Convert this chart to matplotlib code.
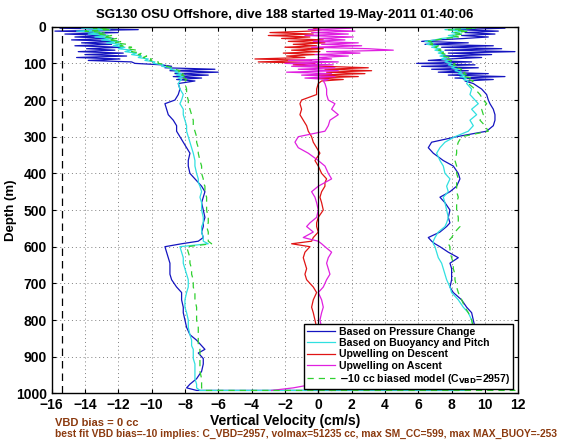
import numpy as np
import matplotlib
matplotlib.use("Agg")
import matplotlib.pyplot as plt

plt.rcParams['font.family'] = ['Liberation Sans', 'DejaVu Sans']
plt.rcParams['font.weight'] = 'bold'

# depth grids (m)
d_top = list(range(0, 150, 4))
d_deep = [155, 170, 185, 200, 210, 225, 240, 255, 270, 285, 300, 315, 330, 345, 365, 380,
          400, 415, 425, 435, 450, 465, 480, 500, 520, 535, 545, 560, 575, 585, 592, 600,
          615, 630, 645, 660, 675, 690, 710, 725, 745, 765, 780, 800, 820, 840, 855, 870,
          880, 890, 905, 920, 940, 960, 975, 985, 992]

# descent, near surface (cm/s)
press_dn_top = [-11.5, -15.5, -10.8, -15.8, -12.0, -15.2, -12.6, -14.6, -12.3, -14.8, -12.0, -14.2,
                -12.4, -14.6, -11.8, -13.9, -12.2, -14.4, -11.7, -14.0, -11.5, -14.5, -11.9, -13.8,
                -11.2, -11.0, -9.4, -8.8, -9.2, -6.2, -8.9, -6.0, -8.6, -6.6, -8.7, -7.0, -8.5, -7.4]
buoy_dn_top = [-10.5, -14.2, -12.5, -14.5, -13.0, -13.8, -12.6, -13.4, -12.4, -13.0, -12.0, -12.7,
               -11.8, -12.3, -11.6, -12.0, -11.2, -11.6, -10.9, -11.2, -10.6, -10.8, -10.2, -10.4,
               -9.8, -9.9, -9.3, -9.4, -8.8, -8.9, -8.4, -8.6, -8.2, -8.5, -8.1, -8.4, -8.2, -8.3]
model_dn_top = [-10.0, -13.5, -12.4, -14.0, -12.8, -13.3, -12.4, -12.9, -12.1, -12.6, -11.8, -12.2,
                -11.5, -11.9, -11.2, -11.5, -10.9, -11.2, -10.6, -10.8, -10.3, -10.5, -10.0, -10.1,
                -9.6, -9.6, -9.1, -9.1, -8.7, -8.6, -8.3, -8.4, -8.1, -8.2, -7.9, -8.1, -7.9, -8.0]
upw_dn_top = [0.0, -0.3, 0.2, -0.5, -2.9, -0.3, -3.0, -0.5, -2.2, 0.3, -1.8, 0.4,
              -1.5, -0.1, -2.0, 0.3, -1.6, 0.1, -2.1, -0.2, -1.9, -0.8, -3.8, -0.4,
              -3.6, -0.2, -1.5, 0.3, 3.0, 0.4, 3.2, 0.5, 2.8, -0.2, 2.4, -0.3, 1.5, 0.2]

# ascent, near surface (cm/s)
press_up_top = [9.0, 11.2, 8.2, 10.8, 8.8, 10.6, 8.6, 10.2, 8.8, 7.2, 6.2, 9.0,
                6.4, 10.5, 7.4, 11.0, 7.6, 11.8, 7.8, 10.4, 7.4, 9.8, 7.8, 6.6,
                9.2, 5.9, 9.4, 6.2, 9.6, 6.8, 9.0, 7.2, 10.2, 7.8, 11.2, 8.2, 10.5, 8.8]
buoy_up_top = [8.4, 9.4, 7.6, 8.9, 8.0, 8.6, 7.8, 8.3, 7.4, 7.0, 6.4, 6.9,
               6.5, 7.2, 6.8, 7.3, 7.0, 7.5, 7.2, 7.6, 7.3, 7.7, 7.4, 7.8,
               7.6, 8.0, 7.8, 8.2, 8.0, 8.4, 8.2, 8.6, 8.4, 8.8, 8.5, 8.9, 8.7, 9.0]
model_up_top = [8.8, 9.5, 7.8, 9.0, 8.2, 8.7, 8.0, 8.4, 7.6, 7.1, 6.6, 7.0,
                6.7, 7.2, 7.0, 7.4, 7.2, 7.6, 7.4, 7.7, 7.5, 7.9, 7.7, 8.0,
                7.9, 8.2, 8.1, 8.4, 8.3, 8.6, 8.5, 8.8, 8.7, 9.0, 8.8, 9.2, 9.0, 9.3]
upw_up_top = [0.3, 2.0, -0.6, 2.2, -0.4, 1.8, -0.8, 2.1, 0.0, 1.6, -0.3, 2.4,
              0.2, 2.6, -0.4, 3.0, 4.5, 0.5, 2.5, -0.2, 1.8, 0.0, 0.8, -1.8,
              1.2, -2.0, 0.9, -1.6, 1.0, -1.2, 1.2, -1.9, 0.8, -1.0, 1.0, -0.8, 0.6, 0.3]

# descent, deep
press_dn = [-8.4, -8.3, -8.4, -8.6, -9.2, -9.1, -9.0, -8.7, -8.5, -8.5, -8.3, -8.1, -7.9, -7.7, -7.8, -7.8,
            -7.7, -7.4, -7.2, -7.0, -6.8, -6.9, -7.0, -6.9, -6.8, -6.9, -6.9, -7.0, -6.9, -7.2, -8.2, -9.2,
            -9.1, -9.0, -8.9, -8.9, -8.9, -8.8, -8.5, -8.2, -8.2, -8.1, -8.1, -8.0, -7.9, -7.7, -7.3, -7.0,
            -6.8, -7.2, -6.9, -6.9, -7.0, -7.3, -7.7, -7.9, -7.3]
buoy_dn = [-8.4, -8.3, -8.1, -8.2, -8.3, -8.1, -8.1, -8.0, -7.9, -7.9, -7.8, -7.7, -7.6, -7.5, -7.4, -7.4,
           -7.3, -7.2, -7.2, -7.1, -7.0, -7.1, -7.0, -7.0, -6.9, -6.9, -7.0, -7.0, -6.9, -6.9, -6.6, -8.3,
           -8.2, -8.1, -8.1, -8.0, -7.9, -7.8, -7.8, -7.9, -8.0, -8.0, -7.9, -7.8, -7.8, -7.7, -7.6, -7.6,
           -7.5, -7.5, -7.5, -7.4, -7.4, -7.4, -7.3, -7.3, -7.1]
model_dn = [-8.0, -7.9, -7.9, -7.8, -7.8, -7.7, -7.6, -7.5, -7.5, -7.4, -7.3, -7.3, -7.2, -7.2, -7.1, -7.0,
            -7.0, -6.9, -6.9, -6.8, -6.8, -6.7, -6.7, -6.7, -6.6, -6.6, -6.7, -6.6, -6.6, -6.6, -6.4, -7.9,
            -7.8, -7.7, -7.7, -7.6, -7.6, -7.5, -7.5, -7.4, -7.4, -7.3, -7.3, -7.3, -7.2, -7.2, -7.2, -7.2,
            -7.1, -7.1, -7.1, -7.1, -7.1, -7.0, -7.0, -7.0, -6.9]
upw_dn = [0.0, -0.1, -0.1, -1.0, -1.1, -1.0, -1.1, -0.9, -0.7, -0.6, -0.4, -0.3, -0.1, 0.1, -0.2, 0.0,
          0.2, 0.5, 0.4, 0.4, 0.2, 0.1, 0.2, 0.3, 0.0, -0.1, -0.1, 0.0, -0.3, -0.4, -1.6, -0.5,
          -0.8, -0.9, -0.8, -0.7, -0.8, -0.7, -0.3, -0.1, -0.3, -0.4, -0.3, -0.2, -0.1, 0.0, 0.1, 0.0,
          0.1, 0.0, 0.1, 0.0, 0.1, 0.0, 0.1, 0.3, 0.8]

# ascent, deep
press_up = [9.3, 9.8, 10.1, 10.2, 10.3, 10.5, 10.6, 10.6, 10.5, 10.1, 8.3, 6.8, 6.6, 6.9, 7.5, 8.1,
            8.4, 8.5, 8.4, 8.3, 7.9, 7.3, 7.6, 7.9, 7.8, 7.9, 7.7, 7.3, 6.6, 6.8, 7.0, 7.3,
            7.8, 8.4, 7.9, 8.0, 8.0, 8.0, 7.9, 8.1, 8.6, 8.9, 9.2, 9.3, 9.4, 9.5, 9.5, 9.4,
            9.4, 9.3, 9.2, 9.1, 9.0, 8.9, 8.8, 8.6, 8.4]
buoy_up = [8.9, 9.2, 9.1, 9.4, 9.6, 9.2, 9.5, 9.1, 9.3, 9.0, 8.2, 7.6, 7.3, 7.1, 7.3, 7.5,
           7.6, 7.9, 7.8, 7.7, 7.8, 7.5, 7.6, 7.7, 7.8, 7.7, 7.6, 7.2, 7.0, 6.9, 6.9, 7.0,
           7.1, 7.2, 7.4, 7.5, 7.6, 7.7, 7.9, 8.0, 8.4, 8.7, 9.0, 9.2, 9.3, 9.3, 9.4, 9.4,
           9.4, 9.3, 9.3, 9.2, 9.2, 9.1, 9.0, 9.0, 8.9]
model_up = [9.0, 9.4, 9.7, 9.9, 10.1, 9.8, 9.9, 9.7, 10.0, 10.2, 8.6, 8.4, 8.3, 8.3, 8.2, 8.3,
            8.3, 8.4, 8.3, 8.3, 8.3, 8.4, 8.3, 8.3, 8.4, 8.4, 8.5, 8.2, 8.0, 7.8, 7.8, 7.9,
            7.9, 8.0, 8.1, 8.1, 8.2, 8.2, 8.3, 8.4, 8.6, 8.8, 9.0, 9.2, 9.3, 9.4, 9.5, 9.5,
            9.6, 9.6, 9.7, 9.8, 10.0, 10.4, 11.0, 11.5, 11.8]
upw_up = [0.4, 0.5, 0.5, 0.6, 1.0, 0.8, 1.2, 0.7, 0.6, 0.4, -1.2, -1.4, -1.2, -0.6, 0.0, 0.4,
          0.6, 0.8, 0.4, 0.0, -0.4, -0.2, -0.1, 0.0, -0.1, -0.5, -0.7, -0.3, -0.9, 0.0, 0.2, 0.4,
          0.8, 0.6, 0.5, 0.6, 0.7, 0.5, 0.3, 0.0, 0.2, 0.3, 0.2, 0.1, 0.2, 0.1, 0.2, 0.1,
          0.0, 0.1, 0.0, 0.1, 0.0, -0.1, -0.3, -1.5, -2.8]

vbd_line = -15.4

labels = ['Based on Pressure Change', 'Based on Buoyancy and Pitch', 'Upwelling on Descent',
          'Upwelling on Ascent', r'$-$10 cc biased model (C$_{\mathbf{VBD}}$=2957)']
title = 'SG130 OSU Offshore, dive 188 started 19-May-2011 01:40:06'
note1 = 'VBD bias = 0 cc'
note2 = ('best fit VBD bias=-10 implies: C_VBD=2957, volmax=51235 cc, '
         'max SM_CC=599, max MAX_BUOY=-253')

dn_depth = d_top + d_deep
up_depth = d_top + d_deep


def whole_dive(dn_vals, up_vals):
    # descent down to the bottom, then ascent back to the surface
    d = np.array(dn_depth + up_depth[::-1])
    v = np.array(dn_vals + up_vals[::-1])
    return v, d


fig = plt.figure(figsize=(5.7, 4.4), dpi=100)
ax = fig.add_axes([0.0905, 0.106, 0.8188, 0.8333])

lw = 0.9
x, y = whole_dive(press_dn_top + press_dn, press_up_top + press_up)
ax.plot(x, y, color='#1414c0', lw=lw, label=labels[0])
x, y = whole_dive(buoy_dn_top + buoy_dn, buoy_up_top + buoy_up)
ax.plot(x, y, color='#30e0e0', lw=lw, label=labels[1])
ax.plot(upw_dn_top + upw_dn, dn_depth, color='#e01414', lw=lw, label=labels[2])
ax.plot(upw_up_top + upw_up, up_depth, color='#e020e0', lw=lw, label=labels[3])
x, y = whole_dive(model_dn_top + model_dn, model_up_top + model_up)
ax.plot(x, y, color='#30d030', lw=lw, ls=(0, (5, 4)), label=labels[4])

ax.axvline(0, color='k', lw=0.9)
ax.axvline(vbd_line, color='k', lw=0.9, ls=(0, (6, 4)))

ax.set_xlim(-16, 12)
ax.set_ylim(1000, 0)
ax.set_xticks(np.arange(-16, 13, 2))
ax.set_yticks(np.arange(0, 1001, 100))
ax.grid(True, color='#808080', ls=(0, (1, 3)), lw=0.7)
ax.tick_params(direction='in', top=True, right=True, labelsize=10, length=3)
for s in ax.spines.values():
    s.set_linewidth(1.0)

ax.set_title(title, fontsize=9.5, fontweight='bold', pad=6)
ax.set_xlabel('Vertical Velocity (cm/s)', fontsize=10, fontweight='bold', labelpad=1)
ax.set_ylabel('Depth (m)', fontsize=9.5, fontweight='bold')
ax.yaxis.set_label_coords(-0.074, 0.5)

leg = ax.legend(loc='lower right', bbox_to_anchor=(0.989, 0.012), fontsize=7.6, frameon=True,
                fancybox=False, edgecolor='k', framealpha=1, borderpad=0.3,
                labelspacing=0.12, handlelength=2.6, handletextpad=0.4, borderaxespad=0)
leg.get_frame().set_linewidth(1.0)

fig.text(0.096, 0.038, note1, color='#8b3a0f', fontsize=8, fontweight='bold', va='center')
fig.text(0.096, 0.014, note2, color='#8b3a0f', fontsize=7.4, fontweight='bold', va='center')

fig.savefig('out.png', dpi=100)
